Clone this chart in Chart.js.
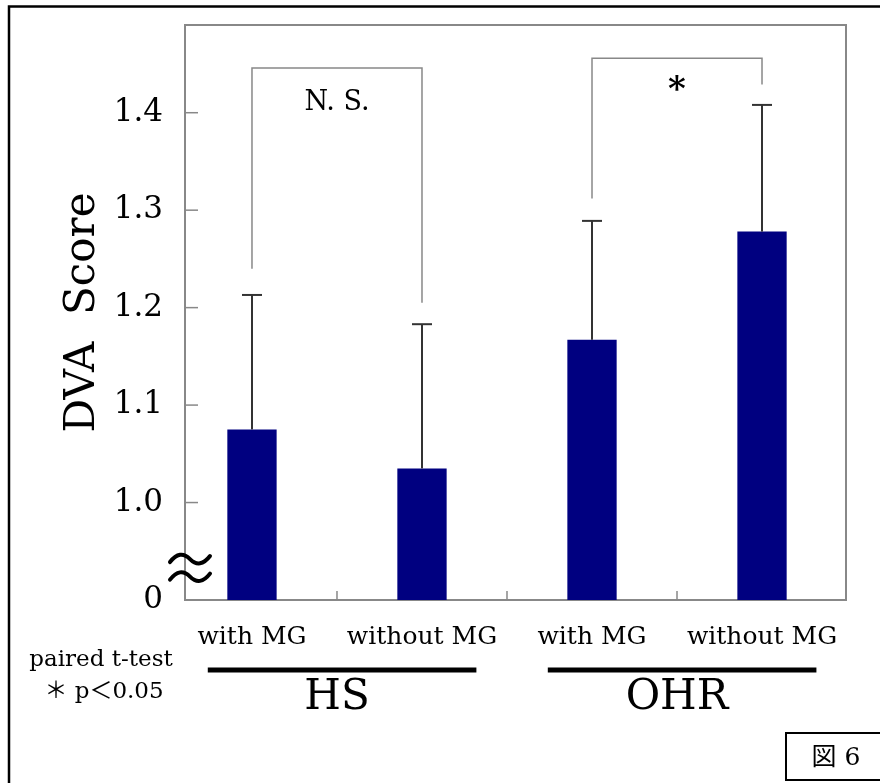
<!DOCTYPE html>
<html>
<head>
<meta charset="utf-8">
<title>DVA Score</title>
<script src="https://cdn.jsdelivr.net/npm/chart.js@4.4.1/dist/chart.umd.min.js"></script>
<style>
  html, body { margin: 0; padding: 0; background: #fff; }
  #wrap { width: 880px; height: 783px; position: relative; }
</style>
</head>
<body>
<div id="wrap"><canvas id="dvaChart" width="880" height="783"></canvas></div>
<script>
const categories = ['with MG', 'without MG', 'with MG', 'without MG'];
const groups = [
  { name: 'HS', from: 0, to: 1 },
  { name: 'OHR', from: 2, to: 3 }
];
const means = [1.075, 1.035, 1.167, 1.278];
const sds = [0.138, 0.148, 0.122, 0.130];
const yTickValues = [0.9, 1.0, 1.1, 1.2, 1.3, 1.4];
const yTickLabels = ['0', '1.0', '1.1', '1.2', '1.3', '1.4'];
// paired comparisons, heights in score units
const brackets = [
  { from: 0, to: 1, top: 1.446, leftEnd: 1.240, rightEnd: 1.205, label: 'N. S.' },
  { from: 2, to: 3, top: 1.456, leftEnd: 1.312, rightEnd: 1.429, label: '*' }
];

const serif = '"DejaVu Serif", "Liberation Serif", "Noto Sans CJK JP", serif';

function line(ctx, x1, y1, x2, y2) {
  ctx.beginPath();
  ctx.moveTo(x1, y1);
  ctx.lineTo(x2, y2);
  ctx.stroke();
}

function wave(ctx, cx, cy) {
  ctx.beginPath();
  ctx.moveTo(cx - 20, cy + 3);
  ctx.quadraticCurveTo(cx - 10, cy - 10, cx, cy);
  ctx.quadraticCurveTo(cx + 10, cy + 10, cx + 20, cy - 3);
  ctx.stroke();
}

const decor = {
  id: 'decor',
  afterDatasetsDraw(chart) {
    const { ctx, chartArea: a, scales: { x, y } } = chart;
    const meta = chart.getDatasetMeta(0);
    ctx.save();

    // rest of the plot frame
    ctx.strokeStyle = '#888';
    ctx.lineWidth = 2;
    ctx.beginPath();
    ctx.moveTo(a.left, a.top);
    ctx.lineTo(a.right, a.top);
    ctx.lineTo(a.right, a.bottom);
    ctx.stroke();

    // ticks pointing inward
    ctx.lineWidth = 1.5;
    yTickValues.slice(1).forEach(v => {
      const py = y.getPixelForValue(v);
      line(ctx, a.left, py, a.left + 13, py);
    });
    for (let i = 0; i < categories.length - 1; i++) {
      const px = x.getPixelForValue(i + 0.5);
      line(ctx, px, a.bottom, px, a.bottom - 9);
    }

    // error bars (upper side only)
    ctx.strokeStyle = '#333';
    ctx.lineWidth = 2;
    meta.data.forEach((bar, i) => {
      const top = y.getPixelForValue(means[i] + sds[i]);
      line(ctx, bar.x, bar.y, bar.x, top);
      line(ctx, bar.x - 10, top, bar.x + 10, top);
    });

    // significance brackets
    ctx.strokeStyle = '#888';
    ctx.lineWidth = 1.5;
    ctx.fillStyle = '#000';
    ctx.textAlign = 'center';
    ctx.textBaseline = 'middle';
    brackets.forEach(b => {
      const x1 = x.getPixelForValue(b.from);
      const x2 = x.getPixelForValue(b.to);
      const yt = y.getPixelForValue(b.top);
      ctx.beginPath();
      ctx.moveTo(x1, y.getPixelForValue(b.leftEnd));
      ctx.lineTo(x1, yt);
      ctx.lineTo(x2, yt);
      ctx.lineTo(x2, y.getPixelForValue(b.rightEnd));
      ctx.stroke();
      const star = b.label === '*';
      ctx.font = (star ? 'bold 34px ' : '27px ') + serif;
      ctx.fillText(b.label, (x1 + x2) / 2, yt + (star ? 33 : 35));
    });

    // axis break mark
    ctx.strokeStyle = '#000';
    ctx.lineWidth = 4;
    ctx.lineCap = 'round';
    wave(ctx, a.left + 5, y.getPixelForValue(0.942));
    wave(ctx, a.left + 5, y.getPixelForValue(0.924));
    ctx.lineCap = 'butt';

    // group bars and names
    ctx.lineWidth = 5;
    groups.forEach(g => {
      const x1 = x.getPixelForValue(g.from - 0.26);
      const x2 = x.getPixelForValue(g.to + 0.32);
      line(ctx, x1, 670, x2, 670);
      ctx.font = '42px ' + serif;
      ctx.fillText(g.name, x.getPixelForValue((g.from + g.to) / 2), 698);
    });

    // test note
    ctx.font = '23px ' + serif;
    ctx.fillText('paired t-test', 101, 660);
    ctx.fillText('＊ p＜0.05', 104, 692);

    // figure number box
    ctx.lineWidth = 2;
    ctx.strokeRect(786, 733, 100, 47);
    ctx.font = '25px ' + serif;
    ctx.fillText('図 6', 836, 758);

    // outer frame
    ctx.lineWidth = 2.5;
    ctx.beginPath();
    ctx.moveTo(880, 6.5);
    ctx.lineTo(9, 6.5);
    ctx.lineTo(9, 783);
    ctx.stroke();

    ctx.restore();
  }
};

const ctx = document.getElementById('dvaChart').getContext('2d');

new Chart(ctx, {
  type: 'bar',
  data: {
    datasets: [{
      data: means.map((v, i) => ({ x: i, y: v })),
      backgroundColor: '#000080',
      borderWidth: 0,
      barPercentage: 0.29,
      categoryPercentage: 1
    }]
  },
  options: {
    responsive: false,
    animation: false,
    events: [],
    layout: { padding: { top: 25, right: 34, left: 0, bottom: 0 } },
    plugins: {
      legend: { display: false },
      tooltip: { enabled: false }
    },
    scales: {
      x: {
        type: 'linear',
        offset: false,
        min: -0.394,
        max: 3.494,
        grid: { display: false },
        border: { color: '#888', width: 2 },
        afterBuildTicks: s => { s.ticks = categories.map((c, i) => ({ value: i })); },
        ticks: {
          callback: v => categories[v],
          color: '#000',
          font: { family: serif, size: 25 },
          padding: 14,
          maxRotation: 0,
          autoSkip: false
        },
        afterFit: s => {
          s.height = 183;
          s.paddingLeft = 0;
          s.paddingRight = 0;
        }
      },
      y: {
        min: 0.9,
        max: 1.49,
        grid: { display: false },
        border: { color: '#888', width: 2 },
        afterBuildTicks: s => { s.ticks = yTickValues.map(v => ({ value: v })); },
        ticks: {
          callback: (v, i) => yTickLabels[i],
          color: '#000',
          font: { family: serif, size: 31 },
          padding: 14
        },
        title: {
          display: true,
          text: 'DVA  Score',
          color: '#000',
          font: { family: serif, size: 42 },
          padding: { top: 58, bottom: 0 }
        },
        afterFit: s => {
          s.width = 185;
          s.paddingTop = 0;
          s.paddingBottom = 0;
        }
      }
    }
  },
  plugins: [decor]
});
</script>
</body>
</html>
